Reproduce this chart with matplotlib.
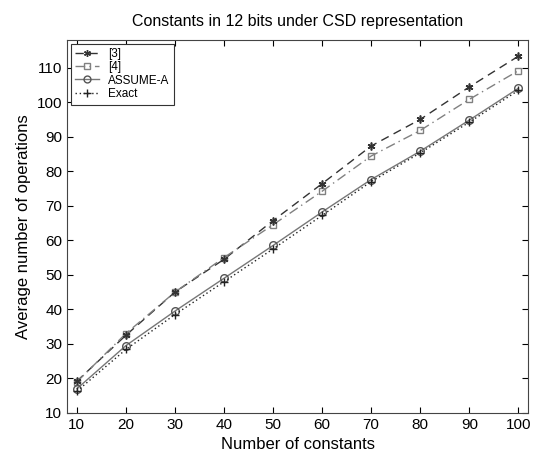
import matplotlib
matplotlib.use("Agg")
from matplotlib import pyplot as plt

plt.rcParams["font.family"] = ["Liberation Sans", "DejaVu Sans"]

n_constants = [10, 20, 30, 40, 50, 60, 70, 80, 90, 100]
ref3 = [19.2, 32.5, 45.0, 54.5, 65.7, 76.4, 87.3, 95.0, 104.4, 113.3]
ref4 = [19.0, 33.0, 45.0, 55.0, 64.5, 74.2, 84.4, 91.8, 100.8, 109.1]
assume_a = [17.0, 29.5, 39.5, 49.0, 58.5, 68.2, 77.6, 85.8, 94.8, 104.0]
exact = [16.3, 28.4, 38.5, 48.0, 57.5, 67.2, 77.0, 85.3, 94.2, 103.4]

fig = plt.figure(figsize=(5.34, 4.57), dpi=100)
ax = fig.add_axes([0.1255, 0.0963, 0.8635, 0.8162])

asterisk = (6, 2, 0)
ax.plot(n_constants, ref3, linestyle=(0, (6, 4)), color="#333333", lw=1.0,
        marker=asterisk, ms=5.5, mec="#333333", label="[3]")
ax.plot(n_constants, ref4, linestyle=(0, (7, 3, 1, 3)), color="#808080", lw=1.0,
        marker="s", ms=4.5, mfc="none", mec="#808080", label="[4]")
ax.plot(n_constants, ref3, linestyle="none", color="#333333",
        marker=asterisk, ms=5.5, mec="#333333")
ax.plot(n_constants, assume_a, linestyle="-", color="#777777", lw=1.0,
        marker="o", ms=5.5, mfc="none", mec="#555555", label="ASSUME-A")
ax.plot(n_constants, exact, linestyle=(0, (1, 2)), color="#222222", lw=1.0,
        marker="+", ms=6, mec="#222222", label="Exact")

ax.set_xlim(8, 102)
ax.set_ylim(10, 118)
ax.set_xticks(n_constants)
ax.set_yticks(range(10, 111, 10))
ax.tick_params(direction="in", top=True, right=True, labelsize=11, length=4)
for s in ax.spines.values():
    s.set_color("#444444")

ax.set_title("Constants in 12 bits under CSD representation", fontsize=11.5, pad=10)
ax.set_xlabel("Number of constants", fontsize=12)
ax.set_ylabel("Average number of operations", fontsize=12)

leg = ax.legend(loc="upper left", fontsize=8.5, fancybox=False, edgecolor="#333333",
                handlelength=2.0, borderaxespad=0.3, labelspacing=0.1, framealpha=1,
                markerscale=0.9)
leg.get_frame().set_linewidth(0.8)

fig.savefig("out.png", dpi=100)
